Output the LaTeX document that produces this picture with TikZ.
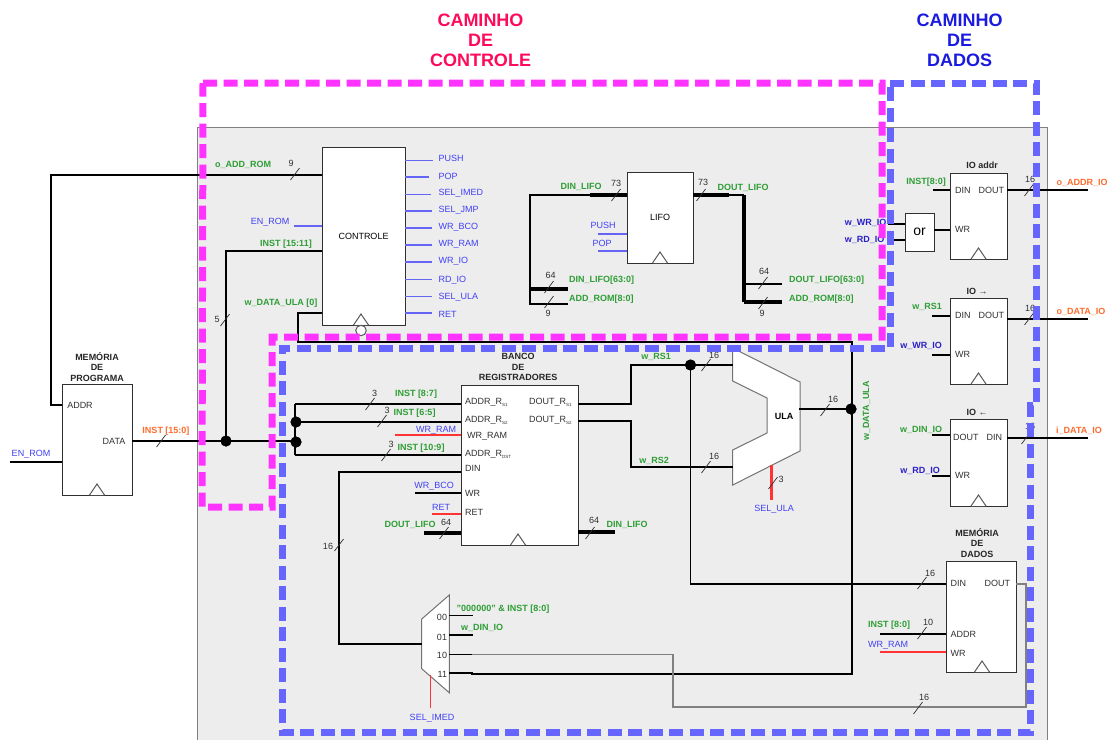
\documentclass[tikz,border=0pt]{standalone}
\usepackage{fontspec}
\setmainfont{Liberation Sans}
\definecolor{panel}{HTML}{EDEDED}
\definecolor{lgreen}{HTML}{2E9E35}
\definecolor{lblue}{HTML}{3F3FF5}
\definecolor{dblue}{HTML}{2A1FC8}
\definecolor{lorange}{HTML}{FF6B2D}
\definecolor{lmag}{HTML}{FF33FF}
\definecolor{lviol}{HTML}{6666FF}
\definecolor{lwire}{HTML}{6464F5}
\definecolor{lred}{HTML}{FF3333}
\definecolor{dk}{HTML}{303030}
\definecolor{titlered}{HTML}{FF0A5A}
\definecolor{titleblue}{HTML}{1A1AE0}
\tikzset{
  every node/.style={font=\fontsize{9}{10.5}\selectfont, inner sep=0pt, outer sep=0pt},
  box/.style={draw=dk, fill=white, line width=1pt, rectangle},
  gl/.style={text=lgreen, font=\fontsize{9}{10.5}\selectfont\bfseries},
  bl/.style={text=lblue},
  dbl/.style={text=dblue, font=\fontsize{9}{10.5}\selectfont\bfseries},
  ol/.style={text=lorange, font=\fontsize{9}{10.5}\selectfont\bfseries},
  pl/.style={text=dk},
  tl/.style={text=black!85, align=center, font=\fontsize{9}{10.5}\selectfont\bfseries},
  nl/.style={text=dk},
  wire/.style={draw=black, line width=1.5pt},
  wirethick/.style={draw=black, line width=3.2pt},
  sigblue/.style={draw=lwire, line width=1.5pt},
  sigred/.style={draw=lred, line width=1.5pt},
  greywire/.style={draw=black!50, line width=1.5pt},
  junc/.style={circle, fill=black, minimum size=11pt},
  clock/.style={draw=black!65, line width=1pt, fill=white},
  busmark/.style={draw=dk, line width=.7pt},
  dashm/.style={draw=lmag, line width=7pt, dash pattern=on 14pt off 6.5pt},
  dashb/.style={draw=lviol, line width=7pt, dash pattern=on 14pt off 6.5pt},
}
\newcommand{\clk}[2]{\draw[clock] (#1-7.5,#2) -- (#1,#2-11) -- (#1+7.5,#2);}
% id, slash x, slash y, label x, label y, text
\newcommand{\bm}[6]{\draw[busmark] (#2-4.5,#3+6) -- (#2+4.5,#3-6); \node[nl] (#1) at (#4,#5) {#6};}
\newcommand{\subs}[1]{\raisebox{-2pt}{\fontsize{4.5}{5}\selectfont #1}}
\begin{document}
\begin{tikzpicture}[x=1pt,y=-1pt]
\useasboundingbox (0,0) rectangle (1107,740);
\fill[panel] (197,127) rectangle (1047,740);
\draw[black!50,line width=1pt] (197,740) -- (197,127) -- (1047,127) -- (1047,740);

% blocks
\node[box,minimum width=70pt,minimum height=111pt] (mp) at (97,439.5) {};
\node[box,minimum width=83pt,minimum height=178pt] (ctrl) at (363.5,236) {CONTROLE};
\node[box,minimum width=66pt,minimum height=91pt] (lifo) at (660,217.5) {LIFO};
\node[box,minimum width=57pt,minimum height=86pt] (ioa) at (978.5,216) {};
\node[box,minimum width=29pt,minimum height=38pt,font=\fontsize{14}{14}\selectfont] (orgate) at (919.5,232) {or};
\node[box,minimum width=57pt,minimum height=86pt] (iod) at (978.5,341) {};
\node[box,minimum width=57pt,minimum height=87pt] (ioi) at (978.5,462.5) {};
\node[box,minimum width=70pt,minimum height=111pt] (md) at (981,616.5) {};
\node[box,minimum width=117pt,minimum height=160pt] (bco) at (519.5,465) {};

% junctions and free ends
\node[junc] (j1) at (226,441) {};
\node[junc] (j2) at (296,422) {};
\node[junc] (j3) at (296,442) {};
\node[junc] (j4) at (690.5,365) {};
\node[junc] (j5) at (851,409) {};
\foreach \n/\x/\y in {cA/51/175, cR/275/175, cEn/10/462, cEnc/294/226, cI/226/251, cU/298/342, cUr/852/342, cUb/852/674,
  cL/530/195, cLt/590/195, cL1/568/289, cL2/568/304, cLa/530/304, cLo/729/195, cRv/744/195, cRv2/744/302, cR1/782/284, cR2/782/302,
  cPu/598/234, cPo/598/251, cIa/933/190, cWr/888/224, cRd/888/240, cA1/1088/190, cRs/932/316, cWi/932/355, cA2/1088/319,
  cDi/932/435, cRi/932/476, cA3/1088/438, cD1/690.5/584, cAd/880/634, cWm/880/652, cGa/1026/584, cGb/1026/707, cGc/673/707, cGd/673/654.5,
  cM0/473/615.5, cM1/473/635, cM2/472/654.5, cM3/472/674, cB1/295/404, cB2/295/455, cWrR/395/435, cDi1/339/472, cDi2/339/644,
  cWb/415/493, cRe/432/514, cDL/424/533, cDR/615/532, cS1a/631/404, cS1b/631/365, cS2a/631/421, cS2b/631/467,
  cUl1/733/365, cUl2/733/467, cUlo/799/409, cSa/771/465, cSb/771/500, cIm1/430.5/675, cIm2/430.5/708, cMi/422/644}
  {\coordinate (\n) at (\x,\y);}

% ULA and mux shapes
\draw[fill=white,draw=black!55,line width=1pt] (732.7,348) -- (800,382) -- (800,451) -- (732.7,485) -- (732.7,450) -- (767,433) -- (767,398) -- (732.7,381) -- cycle;
\node[font=\fontsize{9}{10.5}\selectfont\bfseries] (ula) at (784,416) {ULA};
\draw[fill=white,draw=black!55,line width=1pt] (421.7,619) -- (449.3,595) -- (449.3,692.7) -- (421.7,668.7) -- cycle;

% wires: program memory and control
\draw[wire] (mp.west |- 0,405) -- (51,405) -- (cA) -- (ctrl.west |- cA);
\draw[line width=2.2pt] (cR) -- (ctrl.west |- cR);
\draw[wire] (cEn) -- (mp.west |- cEn);
\draw[wire] (mp.east |- j1) -- (j1.center) -- (j1 -| j3);
\draw[wire] (j1.center) -- (j1 |- cI) -- (ctrl.west |- cI);
\draw[wire] (ctrl.west |- 0,313) -- (298,313) -- (cU) -- (cUr) -- (cUb) -- (cM3) -- (472,673) -- (449.3,673);
\draw[sigblue] (cEnc) -- (ctrl.west |- cEnc);
\foreach \y/\x in {160.7/433,177/429,194.7/431,211/432,228/432,245/432,262/432,279.5/432,296.5/432,313/432}
  \draw[sigblue] (ctrl.east |- 0,\y) -- (\x,\y);
\draw[clock] (353.5,325) -- (361,314) -- (368.5,325);
\node[draw=black!65,fill=white,line width=1pt,circle,minimum size=10.5pt] (clkc) at (361,330.5) {};

% LIFO
\draw[wirethick] (cLt) -- (lifo.west |- cLt);
\draw[wire,line width=2pt] (cLt) -- (cL) -- (cLa) -- (cL2);
\draw[wirethick] (cL |- cL1) -- (cL1);
\draw[wirethick] (lifo.east |- cLo) -- (cLo);
\draw[wire,line width=2pt] (cLo) -- (cRv);
\draw[wirethick] (cRv) -- (cRv2);
\draw[wire,line width=2pt] (cRv |- cR1) -- (cR1);
\draw[wirethick] (cRv2) -- (cR2);
\draw[sigblue] (cPu) -- (lifo.west |- cPu);
\draw[sigblue] (cPo) -- (lifo.west |- cPo);

% IO
\draw[wire] (cIa) -- (ioa.west |- cIa);
\draw[wire] (cWr) -- (orgate.west |- cWr);
\draw[wire] (cRd) -- (orgate.west |- cRd);
\draw[wire] (orgate.east |- 0,230) -- (ioa.west |- 0,230);
\draw[wire] (ioa.east |- cA1) -- (cA1);
\draw[wire] (cRs) -- (iod.west |- cRs);
\draw[wire] (cWi) -- (iod.west |- cWi);
\draw[wire] (iod.east |- cA2) -- (cA2);
\draw[wire] (cDi) -- (ioi.west |- cDi);
\draw[wire] (cRi) -- (ioi.west |- cRi);
\draw[wire] (ioi.east |- cA3) -- (cA3);

% data memory
\draw[wire] (j4.center) -- (cD1) -- (md.west |- cD1);
\draw[wire] (cAd) -- (md.west |- cAd);
\draw[sigred] (cWm) -- (md.west |- cWm);
\draw[greywire] (md.east |- cGa) -- (cGa) -- (cGb) -- (cGc) -- (cGd) -- (cM2);
\draw[wire] (449.3,654.5) -- (cM2);

% mux
\draw[wire] (449.3,615.5) -- (cM0);
\draw[wire] (449.3,635) -- (cM1);
\draw[sigred] (cIm1) -- (cIm2);
\draw[wire] (bco.west |- cDi1) -- (cDi1) -- (cDi2) -- (cMi);

% register bank
\draw[wire] (cB1) -- (cB2);
\draw[wire] (cB1) -- (bco.west |- cB1);
\draw[wire] (j2.center) -- (bco.west |- j2);
\draw[wire] (cB2) -- (bco.west |- cB2);
\draw[sigred] (cWrR) -- (bco.west |- cWrR);
\draw[wire] (cWb) -- (bco.west |- cWb);
\draw[sigred] (cRe) -- (bco.west |- cRe);
\draw[wirethick,line width=4pt] (cDL) -- (bco.west |- cDL);
\draw[wirethick,line width=4pt] (bco.east |- cDR) -- (cDR);
\draw[wire] (bco.east |- cS1a) -- (cS1a) -- (cS1b) -- (cUl1);
\draw[wire] (bco.east |- cS2a) -- (cS2a) -- (cS2b) -- (cUl2);
\draw[wire,line width=2pt] (cUlo) -- (j5.center);
\draw[draw=lred,line width=3pt] (cSa) -- (cSb);

% clocks
\clk{97}{495}
\clk{660}{263}
\clk{978.5}{259}
\clk{978.5}{384}
\clk{978.5}{506}
\clk{982}{672}
\clk{518}{545}
\node[junc] at (j1) {};
\node[junc] at (j2) {};
\node[junc] at (j3) {};
\node[junc] at (j4) {};
\node[junc] at (j5) {};

% bus marks
\draw[busmark] (156.5,447) -- (165.5,435);
\bm{b2}{295}{174}{291}{163}{9}
\bm{b3}{225}{320}{217}{319}{5}
\bm{b4}{616}{195}{616}{183}{73}
\bm{b5}{701}{195}{703}{182}{73}
\bm{b6}{549}{287}{550.5}{275}{64}
\bm{b7}{549}{302}{548}{313}{9}
\bm{b8}{763}{283}{764}{271}{64}
\bm{b9}{763}{303}{762}{313}{9}
\bm{b10}{1029}{190}{1030}{179}{16}
\bm{b11}{1029}{319}{1030}{308}{16}
\bm{b12}{1026}{438}{1030}{426}{16}
\bm{b13}{370}{404}{374.5}{393}{3}
\bm{b14}{382}{421}{387}{410}{3}
\bm{b15}{386}{455}{391}{444}{3}
\bm{b16}{444}{533}{446}{522}{64}
\bm{b17}{590}{533}{594}{520}{64}
\bm{b18}{339}{545}{328}{546}{16}
\bm{b19}{706}{365}{714}{355}{16}
\bm{b20}{706}{467}{714}{456}{16}
\bm{b21}{825}{410}{833}{399}{16}
\bm{b22}{773}{483}{781}{479}{3}
\bm{b23}{922}{583}{930}{573}{16}
\bm{b24}{922}{633}{928}{622}{10}
\bm{b25}{918}{708}{924}{697}{16}

% labels: titles
\node[tl] (tmp) at (97,367) {MEMÓRIA\\DE\\PROGRAMA};
\node[tl] (tbco) at (518,367) {BANCO\\DE\\REGISTRADORES};
\node[tl] (tmd) at (977,543) {MEMÓRIA\\DE\\DADOS};
\node[tl] (tioa) at (982,165) {IO addr};
\node[tl] (tiod) at (977,291) {IO →};
\node[tl] (tioi) at (977,412) {IO ←};

% labels: ports
\node[pl] (p1) at (80,405) {ADDR};
\node[pl] (p2) at (114,441) {DATA};
\node[pl,anchor=west] (p3) at (955,190) {DIN};
\node[pl,anchor=east] (p4) at (1004,190) {DOUT};
\node[pl,anchor=west] (p5) at (955,229) {WR};
\node[pl,anchor=west] (p6) at (955,315) {DIN};
\node[pl,anchor=east] (p7) at (1004,315) {DOUT};
\node[pl,anchor=west] (p8) at (955,354) {WR};
\node[pl,anchor=west] (p9) at (953,437) {DOUT};
\node[pl,anchor=east] (p10) at (1002,437) {DIN};
\node[pl,anchor=west] (p11) at (955,475) {WR};
\node[pl,anchor=west] (p12) at (950.5,583.5) {DIN};
\node[pl,anchor=east] (p13) at (1010,583.5) {DOUT};
\node[pl,anchor=west] (p14) at (950.5,634) {ADDR};
\node[pl,anchor=west] (p15) at (950.5,653) {WR};
\node[pl,anchor=west] (r1) at (465,402.5) {ADDR\_R\subs{S1}};
\node[pl,anchor=west] (r2) at (465,420) {ADDR\_R\subs{S2}};
\node[pl,anchor=west] (r3) at (467,436) {WR\_RAM};
\node[pl,anchor=west] (r4) at (465,454) {ADDR\_R\subs{DST}};
\node[pl,anchor=west] (r5) at (465,468) {DIN};
\node[pl,anchor=west] (r6) at (465,493) {WR};
\node[pl,anchor=west] (r7) at (465,512.5) {RET};
\node[pl,anchor=west] (r8) at (529,402.5) {DOUT\_R\subs{S1}};
\node[pl,anchor=west] (r9) at (529,420) {DOUT\_R\subs{S2}};
\node[pl,anchor=east] (m0) at (447,617.5) {00};
\node[pl,anchor=east] (m1) at (447,637) {01};
\node[pl,anchor=east] (m2) at (447,655.5) {10};
\node[pl,anchor=east] (m3) at (447,674.5) {11};

% labels: signals
\node[bl] (l1) at (31,454) {EN\_ROM};
\node[ol] (l2) at (166,431) {INST [15:0]};
\node[gl] (l3) at (243,165) {o\_ADD\_ROM};
\node[bl] (l4) at (270,222) {EN\_ROM};
\node[gl] (l5) at (286,244) {INST [15:11]};
\node[gl] (l6) at (281,303.5) {w\_DATA\_ULA [0]};
\foreach \i/\y/\t in {1/158.5/PUSH,2/176/POP,3/193/SEL\_IMED,4/210/SEL\_JMP,5/227/WR\_BCO,6/244/WR\_RAM,7/261/WR\_IO,8/280/RD\_IO,9/297/SEL\_ULA,10/314/RET}
  \node[bl,anchor=west] (o\i) at (438.5,\y) {\t};
\node[gl] (l7) at (581,187) {DIN\_LIFO};
\node[gl] (l8) at (743,188) {DOUT\_LIFO};
\node[bl] (l9) at (603,225) {PUSH};
\node[bl] (l10) at (602,243) {POP};
\node[gl,anchor=west] (l11) at (569,280) {DIN\_LIFO[63:0]};
\node[gl,anchor=west] (l12) at (569,299.5) {ADD\_ROM[8:0]};
\node[gl,anchor=west] (l13) at (789,280) {DOUT\_LIFO[63:0]};
\node[gl,anchor=west] (l14) at (789,299.5) {ADD\_ROM[8:0]};
\node[gl] (l15) at (926,182) {INST[8:0]};
\node[dbl] (l16) at (865.5,223) {w\_WR\_IO};
\node[dbl] (l17) at (864.5,240) {w\_RD\_IO};
\node[ol] (l18) at (1082,183) {o\_ADDR\_IO};
\node[gl] (l19) at (927,307) {w\_RS1};
\node[dbl] (l20) at (921,346) {w\_WR\_IO};
\node[ol] (l21) at (1081,312) {o\_DATA\_IO};
\node[gl] (l22) at (921,430) {w\_DIN\_IO};
\node[dbl] (l23) at (920,471) {w\_RD\_IO};
\node[ol] (l24) at (1079,431) {i\_DATA\_IO};
\node[gl] (l25) at (889,625) {INST [8:0]};
\node[bl] (l26) at (888,645) {WR\_RAM};
\node[gl] (l27) at (416,394) {INST [8:7]};
\node[gl] (l28) at (414.5,413.5) {INST [6:5]};
\node[gl] (l29) at (421,448) {INST [10:9]};
\node[bl] (l30) at (436,430) {WR\_RAM};
\node[bl] (l31) at (434,486) {WR\_BCO};
\node[bl] (l32) at (441,507) {RET};
\node[gl] (l33) at (410,525) {DOUT\_LIFO};
\node[gl] (l34) at (627,525) {DIN\_LIFO};
\node[gl] (l35) at (656,357) {w\_RS1};
\node[gl] (l36) at (654,461) {w\_RS2};
\node[gl,rotate=90] (l37) at (866.5,411) {w\_DATA\_ULA};
\node[bl] (l38) at (774,509) {SEL\_ULA};
\node[gl] (l39) at (503,609) {"000000" \& INST [8:0]};
\node[gl] (l40) at (482,627.5) {w\_DIN\_IO};
\node[bl] (l41) at (432,718) {SEL\_IMED};

% region titles
\node[align=center,text=titlered,font=\fontsize{18}{20}\selectfont\bfseries] (t1) at (480.5,40.5) {CAMINHO\\DE\\CONTROLE};
\node[align=center,text=titleblue,font=\fontsize{18}{20}\selectfont\bfseries] (t2) at (959.5,40.5) {CAMINHO\\DE\\DADOS};

% dashed regions
\draw[dashm] (203,83) -- (882,83) -- (882,337) -- (272,337) -- (272,507) -- (202,507) -- cycle;
\draw[dashb] (890,83) -- (1036,83) -- (1036,405) -- (1030,405) -- (1030,732) -- (282,732) -- (282,348) -- (890,348) -- cycle;
\end{tikzpicture}
\end{document}
